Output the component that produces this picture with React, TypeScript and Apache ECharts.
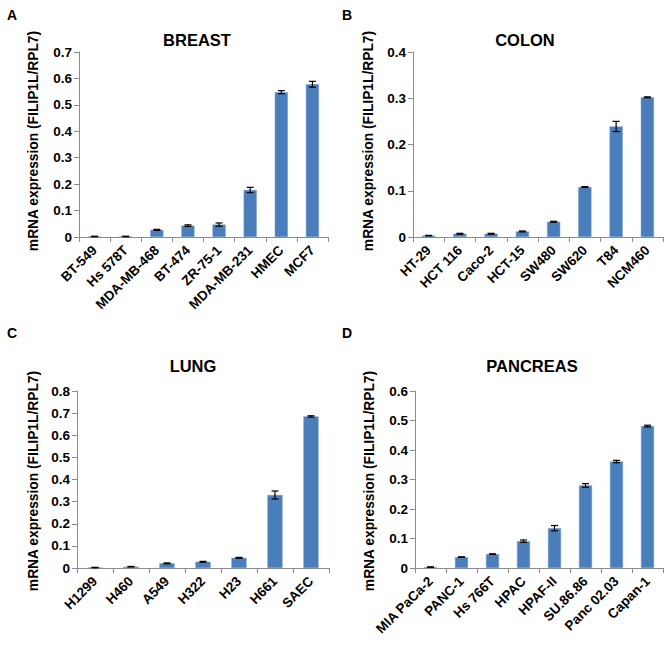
import React, { useEffect, useRef } from "react";
import * as echarts from "echarts";

const breastCats = ["BT-549", "Hs 578T", "MDA-MB-468", "BT-474", "ZR-75-1", "MDA-MB-231", "HMEC", "MCF7"];
const breastVals = [0.002, 0.002, 0.027, 0.043, 0.047, 0.178, 0.548, 0.578];
const breastErr = [0.001, 0.001, 0.002, 0.003, 0.006, 0.010, 0.006, 0.011];

const colonCats = ["HT-29", "HCT 116", "Caco-2", "HCT-15", "SW480", "SW620", "T84", "NCM460"];
const colonVals = [0.003, 0.007, 0.007, 0.012, 0.033, 0.108, 0.239, 0.302];
const colonErr = [0.0005, 0.001, 0.001, 0.001, 0.001, 0.001, 0.011, 0.001];

const lungCats = ["H1299", "H460", "A549", "H322", "H23", "H661", "SAEC"];
const lungVals = [0.002, 0.006, 0.021, 0.028, 0.046, 0.330, 0.685];
const lungErr = [0.001, 0.001, 0.002, 0.002, 0.002, 0.018, 0.003];

const pancCats = ["MIA PaCa-2", "PANC-1", "Hs 766T", "HPAC", "HPAF-II", "SU.86.86", "Panc 02.03", "Capan-1"];
const pancVals = [0.003, 0.037, 0.047, 0.091, 0.135, 0.280, 0.361, 0.481];
const pancErr = [0.001, 0.001, 0.001, 0.004, 0.009, 0.006, 0.004, 0.003];

const yMaxes = [0.7, 0.4, 0.8, 0.6];
const titles = ["BREAST", "COLON", "LUNG", "PANCREAS"];
const letters = ["A", "B", "C", "D"];

const FONT = "Liberation Sans, Arial, sans-serif";
const BAR = "#4a7ebb";
const AXIS = "#8c8c8c";

const panels = [
  { cats: breastCats, vals: breastVals, err: breastErr },
  { cats: colonCats, vals: colonVals, err: colonErr },
  { cats: lungCats, vals: lungVals, err: lungErr },
  { cats: pancCats, vals: pancVals, err: pancErr },
];

const grids = [
  { left: 79, top: 52, width: 249, height: 185 },
  { left: 413, top: 52, width: 250, height: 185 },
  { left: 77, top: 391, width: 252, height: 177 },
  { left: 415, top: 391, width: 248, height: 177 },
];

const yLabelPos = [
  { x: 33, y: 141 },
  { x: 368, y: 141 },
  { x: 33, y: 481 },
  { x: 369, y: 481 },
];
const titlePos = [
  { x: 197, y: 40 },
  { x: 525, y: 40 },
  { x: 193, y: 366 },
  { x: 532, y: 366 },
];
const letterPos = [
  { x: 7, y: 15 },
  { x: 342, y: 15 },
  { x: 7, y: 333 },
  { x: 342, y: 333 },
];

export default function App() {
  const ref = useRef<HTMLDivElement>(null);
  useEffect(() => {
    if (!ref.current) return;
    const chart = echarts.init(ref.current, undefined, { renderer: "svg" });

    const xAxis: any[] = [];
    const yAxis: any[] = [];
    const series: any[] = [];
    const graphic: any[] = [];

    panels.forEach((p, i) => {
      xAxis.push({
        type: "category",
        gridIndex: i,
        data: p.cats,
        axisLine: { lineStyle: { color: AXIS, width: 1 } },
        axisTick: { show: true, alignWithLabel: false, length: 5, lineStyle: { color: AXIS } },
        axisLabel: {
          interval: 0,
          rotate: 45,
          margin: 11,
          hideOverlap: false,
          color: "#000",
          fontFamily: FONT,
          fontWeight: "bold",
          fontSize: 13.5,
        },
      });
      yAxis.push({
        type: "value",
        gridIndex: i,
        min: 0,
        max: yMaxes[i],
        interval: 0.1,
        splitLine: { show: false },
        axisLine: { show: true, lineStyle: { color: AXIS, width: 1 } },
        axisTick: { show: true, length: 5, lineStyle: { color: AXIS } },
        axisLabel: {
          color: "#000",
          fontFamily: FONT,
          fontWeight: "bold",
          fontSize: 13.5,
          margin: 7,
          formatter: (v: number) => (v === 0 ? "0" : String(Math.round(v * 10) / 10)),
        },
      });
      series.push({
        type: "bar",
        xAxisIndex: i,
        yAxisIndex: i,
        data: p.vals,
        barWidth: "42%",
        itemStyle: { color: BAR, borderColor: "#6c97cc", borderWidth: 0.5 },
      });
      series.push({
        type: "custom",
        xAxisIndex: i,
        yAxisIndex: i,
        data: p.vals.map((v, j) => [j, v - p.err[j], v + p.err[j]]),
        z: 10,
        renderItem: (params: any, api: any) => {
          const x = api.value(0);
          const lo = api.coord([x, api.value(1)]);
          const hi = api.coord([x, api.value(2)]);
          const cap = 3.5;
          const st = { stroke: "#000", lineWidth: 1.2 };
          return {
            type: "group",
            children: [
              { type: "line", shape: { x1: lo[0], y1: lo[1], x2: hi[0], y2: hi[1] }, style: st },
              { type: "line", shape: { x1: lo[0] - cap, y1: lo[1], x2: lo[0] + cap, y2: lo[1] }, style: st },
              { type: "line", shape: { x1: hi[0] - cap, y1: hi[1], x2: hi[0] + cap, y2: hi[1] }, style: st },
            ],
          };
        },
      });

      graphic.push({
        type: "text",
        x: yLabelPos[i].x,
        y: yLabelPos[i].y,
        rotation: Math.PI / 2,
        style: {
          text: "mRNA expression (FILIP1L/RPL7)",
          fill: "#000",
          font: `bold 13.8px ${FONT}`,
          align: "center",
          verticalAlign: "middle",
        },
      });
      graphic.push({
        type: "text",
        x: titlePos[i].x,
        y: titlePos[i].y,
        style: {
          text: titles[i],
          fill: "#000",
          font: `bold 16.5px ${FONT}`,
          align: "center",
          verticalAlign: "middle",
        },
      });
      graphic.push({
        type: "text",
        x: letterPos[i].x,
        y: letterPos[i].y,
        style: {
          text: letters[i],
          fill: "#000",
          font: `bold 14px ${FONT}`,
          align: "left",
          verticalAlign: "middle",
        },
      });
    });

    chart.setOption({
      animation: false,
      backgroundColor: "#fff",
      grid: grids.map((g) => ({ ...g, containLabel: false })),
      xAxis,
      yAxis,
      series,
      graphic,
    });
    return () => chart.dispose();
  }, []);

  return (
    <div
      ref={ref}
      style={{ position: "fixed", left: 0, top: 0, width: 669, height: 646, background: "#fff" }}
    />
  );
}
